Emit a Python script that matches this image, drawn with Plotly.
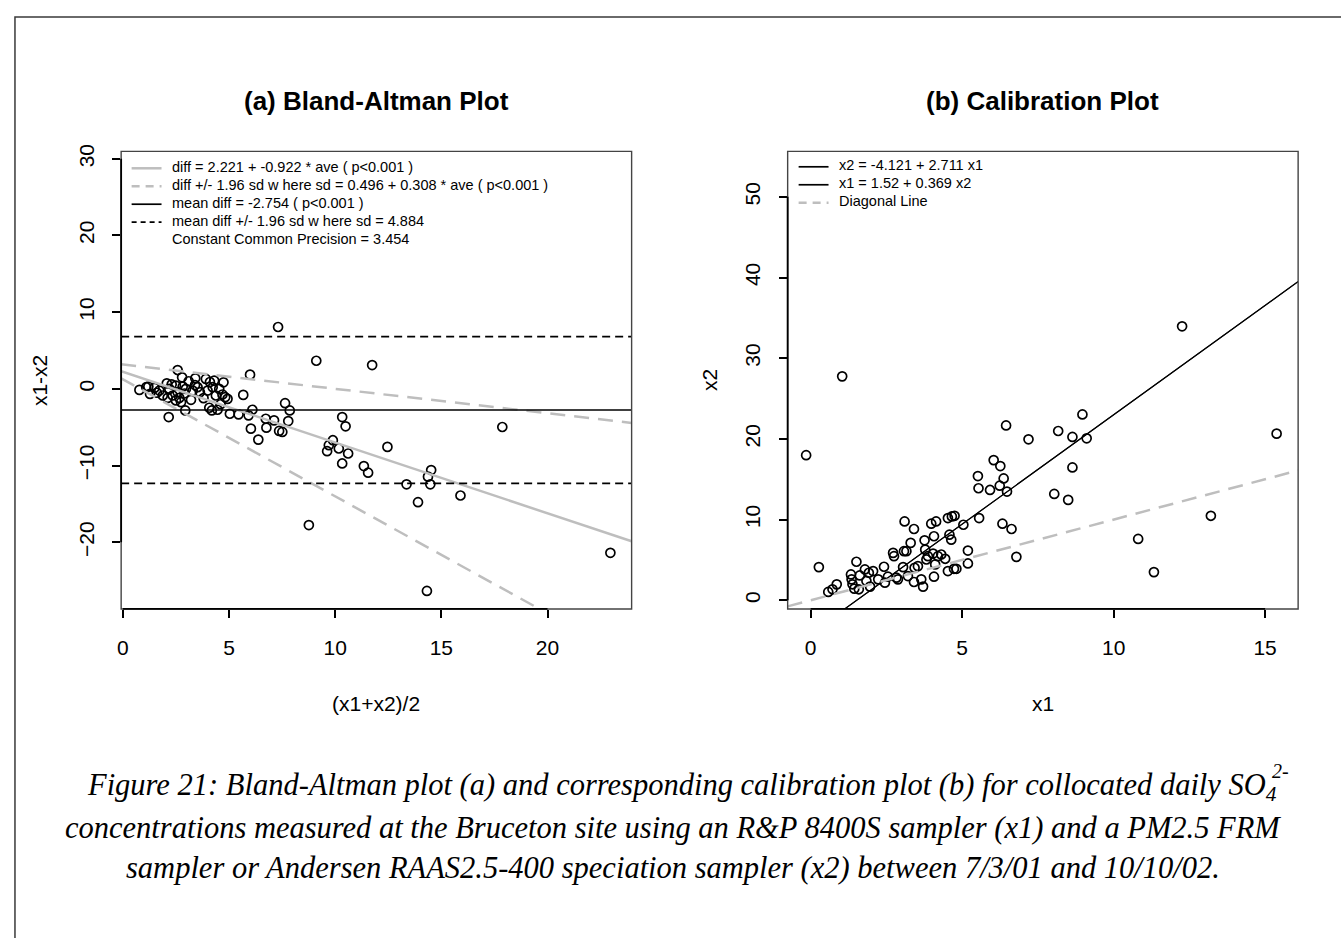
import plotly.graph_objects as go

W, H = 1341, 938

# ---------------- data ----------------
# (a) Bland-Altman: average (x1+x2)/2 and difference x1-x2
ba_ave = [9.11, 11.74, 5.99, 2.58, 2.79, 3.41, 3.91, 4.30, 4.74, 0.78,
          1.10, 1.28, 1.49, 1.72, 1.88, 2.07, 2.11, 2.19, 2.35, 2.50,
          2.58, 2.66, 2.74, 2.82, 2.97, 2.16, 2.94, 3.21, 3.29, 3.52,
          3.63, 3.99, 4.07, 4.19, 4.23, 4.38, 4.46, 4.54, 4.69, 4.82,
          4.93, 5.04, 5.45, 5.67, 5.92, 6.03, 6.10, 6.38, 6.73, 6.76,
          7.12, 7.36, 7.51, 7.64, 7.79, 7.86, 8.76, 9.62, 9.70, 9.89,
          10.17, 10.33, 10.49, 10.33, 10.61, 11.35, 11.55, 12.46, 13.36, 13.90,
          14.32, 14.37, 14.48, 14.52, 17.87, 15.90, 22.96, 7.31, 1.20, 1.60,
          2.30, 2.90, 3.40, 3.80, 4.10, 4.60, 2.50, 3.10]
ba_diff = [3.67, 3.11, 1.86, 2.46, 1.51, 1.38, 1.30, 1.08, 0.86, -0.13,
           0.22, -0.65, 0.13, -0.22, -0.86, 0.73, -1.17, 0.00, -0.86, 0.43,
           -0.43, -1.17, -1.73, 0.30, 0.00, -3.67, -2.81, -1.42, -0.22, 0.22,
           -0.43, -0.22, -2.46, -2.81, 0.22, -0.86, -2.72, 0.00, -0.73, -1.08,
           -1.30, -3.24, -3.32, -0.78, -3.45, -5.18, -2.72, -6.61, -3.89, -5.05,
           -4.10, -5.48, -5.61, -1.86, -4.19, -2.81, -17.75, -8.12, -7.34, -6.69,
           -7.77, -3.67, -4.88, -9.72, -8.42, -10.06, -10.92, -7.56, -12.44, -14.77,
           -26.34, -11.44, -12.44, -10.58, -4.97, -13.90, -21.37, 8.07, 0.30, -0.50,
           0.60, -0.60, 0.50, -1.20, 0.90, -2.00, -1.50, 1.00]

# (b) Calibration: x1 (R&P 8400S) and x2 (FRM / RAAS)
cal_x1 = [1.04, -0.15, 0.27, 0.58, 0.72, 0.86, 1.51, 1.33, 1.35, 1.38,
          1.44, 1.59, 1.62, 1.79, 1.84, 1.92, 1.96, 2.06, 2.23, 2.42,
          2.45, 2.55, 2.72, 2.75, 2.83, 2.88, 3.05, 3.08, 3.10, 3.16,
          3.21, 3.30, 3.41, 3.41, 3.43, 3.54, 3.65, 3.71, 3.76, 3.78,
          3.82, 3.87, 3.98, 4.04, 4.07, 4.07, 4.11, 4.14, 4.20, 4.31,
          4.44, 4.53, 4.53, 4.58, 4.64, 4.66, 4.73, 4.75, 4.81, 5.04,
          5.19, 5.19, 5.52, 5.54, 5.56, 5.92, 6.04, 6.26, 6.24, 6.33,
          6.37, 6.45, 6.48, 6.63, 6.79, 7.19, 8.04, 8.17, 8.50, 8.64,
          8.64, 8.97, 9.11, 12.26, 15.38, 13.21, 10.81, 11.33]
cal_x2 = [27.75, 17.98, 4.11, 1.03, 1.36, 1.97, 4.77, 3.20, 2.59, 1.98,
          1.44, 1.36, 3.08, 3.82, 2.39, 3.41, 1.69, 3.62, 2.59, 4.15,
          2.18, 2.92, 5.87, 5.46, 2.80, 2.59, 4.11, 6.08, 9.77, 6.08,
          3.00, 7.11, 8.83, 2.26, 4.03, 4.23, 2.59, 1.69, 7.43, 6.28,
          5.05, 5.46, 9.49, 5.79, 7.93, 2.92, 4.44, 9.77, 5.46, 5.67,
          5.14, 10.19, 3.62, 8.13, 7.51, 10.39, 3.90, 10.47, 3.90, 9.36,
          6.16, 4.56, 15.39, 13.88, 10.19, 13.67, 17.37, 16.63, 14.20, 9.49,
          15.10, 21.67, 13.47, 8.83, 5.38, 19.95, 13.18, 20.98, 12.44, 20.24,
          16.46, 23.03, 20.07, 33.95, 20.65, 10.47, 7.60, 3.49]

# coefficients as printed in the legends
ba_int, ba_slope = 2.221, -0.922
sd_int, sd_slope = 0.496, 0.308
mean_diff, sd_const = -2.754, 4.884
cal_int, cal_slope = -4.121, 2.711
inv_int, inv_slope = 1.52, 0.369

ba_xticks = [0, 5, 10, 15, 20]
ba_yticks = [-20, -10, 0, 10, 20, 30]
cal_xticks = [0, 5, 10, 15]
cal_yticks = [0, 10, 20, 30, 40, 50]

# ---------------- geometry ----------------
def px(x):
    return x / W

def py(y):
    return 1 - y / H

BOX_TOP, BOX_BOT = 145.5, 606.5
L_LEFT, L_RIGHT = 117.5, 629.5
R_LEFT, R_RIGHT = 786, 1298
ba_xr = [-0.08, 23.96]
ba_yr = [-28.69, 30.96]
cal_xr = [-0.76, 16.09]
cal_yr = [-1.08, 55.63]

GREY = "#bebebe"
FONT = "Liberation Sans, Arial, sans-serif"

fig = go.Figure()

# ---- (a) points and lines ----
fig.add_trace(go.Scatter(x=ba_ave, y=ba_diff, mode="markers", xaxis="x", yaxis="y",
                         marker=dict(symbol="circle-open", size=9, color="black",
                                     line=dict(width=1.7, color="black")),
                         showlegend=False, hoverinfo="x+y"))
xs = ba_xr
fit = [ba_int + ba_slope * a for a in xs]
upper = [ba_int + ba_slope * a + 1.96 * (sd_int + sd_slope * a) for a in xs]
lower = [ba_int + ba_slope * a - 1.96 * (sd_int + sd_slope * a) for a in xs]
fig.add_trace(go.Scatter(x=xs, y=fit, mode="lines", xaxis="x", yaxis="y",
                         line=dict(color=GREY, width=2.5), showlegend=False))
fig.add_trace(go.Scatter(x=xs, y=upper, mode="lines", xaxis="x", yaxis="y",
                         line=dict(color=GREY, width=2.5, dash="15px,9px"), showlegend=False))
fig.add_trace(go.Scatter(x=xs, y=lower, mode="lines", xaxis="x", yaxis="y",
                         line=dict(color=GREY, width=2.5, dash="15px,9px"), showlegend=False))
fig.add_trace(go.Scatter(x=xs, y=[mean_diff] * 2, mode="lines", xaxis="x", yaxis="y",
                         line=dict(color="black", width=1.7), showlegend=False))
for k in (1, -1):
    fig.add_trace(go.Scatter(x=xs, y=[mean_diff + k * 1.96 * sd_const] * 2, mode="lines",
                             xaxis="x", yaxis="y",
                             line=dict(color="black", width=1.7, dash="8px,5px"),
                             showlegend=False))

# ---- (b) points and lines ----
fig.add_trace(go.Scatter(x=cal_x1, y=cal_x2, mode="markers", xaxis="x2", yaxis="y2",
                         marker=dict(symbol="circle-open", size=9, color="black",
                                     line=dict(width=1.7, color="black")),
                         showlegend=False, hoverinfo="x+y"))
cx = cal_xr
fig.add_trace(go.Scatter(x=cx, y=[cal_int + cal_slope * v for v in cx], mode="lines",
                         xaxis="x2", yaxis="y2", line=dict(color="black", width=1.1),
                         showlegend=False))
fig.add_trace(go.Scatter(x=cx, y=[(v - inv_int) / inv_slope for v in cx], mode="lines",
                         xaxis="x2", yaxis="y2", line=dict(color="black", width=1.1),
                         showlegend=False))
fig.add_trace(go.Scatter(x=cx, y=cx, mode="lines", xaxis="x2", yaxis="y2",
                         line=dict(color=GREY, width=2.5, dash="15px,9px"), showlegend=False))

axis_common = dict(showgrid=False, zeroline=False, showline=False, ticks="outside",
                   ticklen=8, tickwidth=1.6, tickcolor="black",
                   tickfont=dict(family=FONT, size=21, color="black"))
fig.update_layout(
    width=W, height=H, margin=dict(l=0, r=0, t=0, b=0),
    paper_bgcolor="white", plot_bgcolor="white", showlegend=False,
    xaxis=dict(domain=[px(L_LEFT), px(L_RIGHT)], range=ba_xr, tickvals=ba_xticks,
               anchor="y", ticklabelstandoff=12, **axis_common),
    yaxis=dict(domain=[py(BOX_BOT), py(BOX_TOP)], range=ba_yr, tickvals=ba_yticks,
               anchor="x", tickangle=-90, ticklabelstandoff=10, **axis_common),
    xaxis2=dict(domain=[px(R_LEFT), px(R_RIGHT)], range=cal_xr, tickvals=cal_xticks,
                anchor="y2", ticklabelstandoff=12, **axis_common),
    yaxis2=dict(domain=[py(BOX_BOT), py(BOX_TOP)], range=cal_yr, tickvals=cal_yticks,
                anchor="x2", tickangle=-90, ticklabelstandoff=10, **axis_common),
)

shapes = []
# outer page frame
shapes.append(dict(type="rect", xref="paper", yref="paper", x0=px(11), x1=1.02,
                   y0=-0.02, y1=py(10), line=dict(color="#3a3a3a", width=1.5)))
# plot boxes and axis lines (axis line spans first..last tick)
for xa, ya, xt, yt in (("x", "y", ba_xticks, ba_yticks), ("x2", "y2", cal_xticks, cal_yticks)):
    shapes.append(dict(type="rect", xref=xa + " domain", yref=ya + " domain",
                       x0=0, x1=1, y0=0, y1=1, line=dict(color="#444444", width=1.4)))
    shapes.append(dict(type="line", xref=xa, yref=ya + " domain", x0=xt[0], x1=xt[-1],
                       y0=0, y1=0, line=dict(color="black", width=1.8)))
    shapes.append(dict(type="line", xref=xa + " domain", yref=ya, x0=0, x1=0,
                       y0=yt[0], y1=yt[-1], line=dict(color="black", width=1.8)))

annotations = []

def text(x, y, s, size, anchor="center", angle=0, family=FONT, valign="middle"):
    annotations.append(dict(x=px(x), y=py(y), xref="paper", yref="paper", text=s,
                            showarrow=False, xanchor=anchor, yanchor=valign,
                            textangle=angle, font=dict(family=family, size=size, color="black")))

# titles
text((L_LEFT + L_RIGHT) / 2, 95, "<b>(a) Bland-Altman Plot</b>", 26)
text((R_LEFT + R_RIGHT) / 2, 95, "<b>(b) Calibration Plot</b>", 26)
# axis titles
text((L_LEFT + L_RIGHT) / 2, 702, "(x1+x2)/2", 21)
text((R_LEFT + R_RIGHT) / 2, 702, "x1", 21)
text(35, (BOX_TOP + BOX_BOT) / 2, "x1-x2", 21, angle=-90)
text(707, (BOX_TOP + BOX_BOT) / 2, "x2", 21, angle=-90)

# legend (a)
LEG = 14.5
leg_a = [
    ("diff = 2.221 + -0.922 * ave ( p<0.001 )", GREY, "solid", 2.5),
    ("diff +/- 1.96 sd w here sd = 0.496 + 0.308 * ave ( p<0.001 )", GREY, "8px,6px", 2.5),
    ("mean diff = -2.754 ( p<0.001 )", "black", "solid", 1.7),
    ("mean diff +/- 1.96 sd w here sd = 4.884", "black", "5px,4px", 1.7),
    ("Constant Common Precision = 3.454", None, None, 0),
]
for i, (lab, col, dsh, wd) in enumerate(leg_a):
    yy = 161 + i * 18.1
    if col:
        shapes.append(dict(type="line", xref="paper", yref="paper", x0=px(128), x1=px(158),
                           y0=py(yy + 1.5), y1=py(yy + 1.5), line=dict(color=col, width=wd, dash=dsh)))
    text(166, yy, lab, LEG, anchor="left")

# legend (b)
leg_b = [
    ("x2 = -4.121 + 2.711 x1", "black", "solid", 1.7),
    ("x1 = 1.52 + 0.369 x2", "black", "solid", 1.7),
    ("Diagonal Line", GREY, "8px,6px", 2.5),
]
for i, (lab, col, dsh, wd) in enumerate(leg_b):
    yy = 159.5 + i * 18.1
    shapes.append(dict(type="line", xref="paper", yref="paper", x0=px(797), x1=px(827),
                       y0=py(yy + 1.5), y1=py(yy + 1.5), line=dict(color=col, width=wd, dash=dsh)))
    text(835, yy, lab, LEG, anchor="left")

# caption
SERIF = "Liberation Serif, Times New Roman, serif"
CAP = 30.5
text(1279, 786, "<i>Figure 21: Bland-Altman plot (a) and corresponding calibration plot (b) "
     "for collocated daily SO<sub>4</sub></i>", CAP, anchor="right", family=SERIF)
text(1270, 770, "<i>2-</i>", 20, anchor="left", family=SERIF)
text(670.5, 827, "<i>concentrations measured at the Bruceton site using an R&amp;P 8400S "
     "sampler (x1) and a PM2.5 FRM</i>", CAP, family=SERIF)
text(670.5, 867.5, "<i>sampler or Andersen RAAS2.5-400 speciation sampler (x2) between "
     "7/3/01 and 10/10/02.</i>", CAP, family=SERIF)

fig.update_layout(shapes=shapes, annotations=annotations)
fig.write_html("out.html")
